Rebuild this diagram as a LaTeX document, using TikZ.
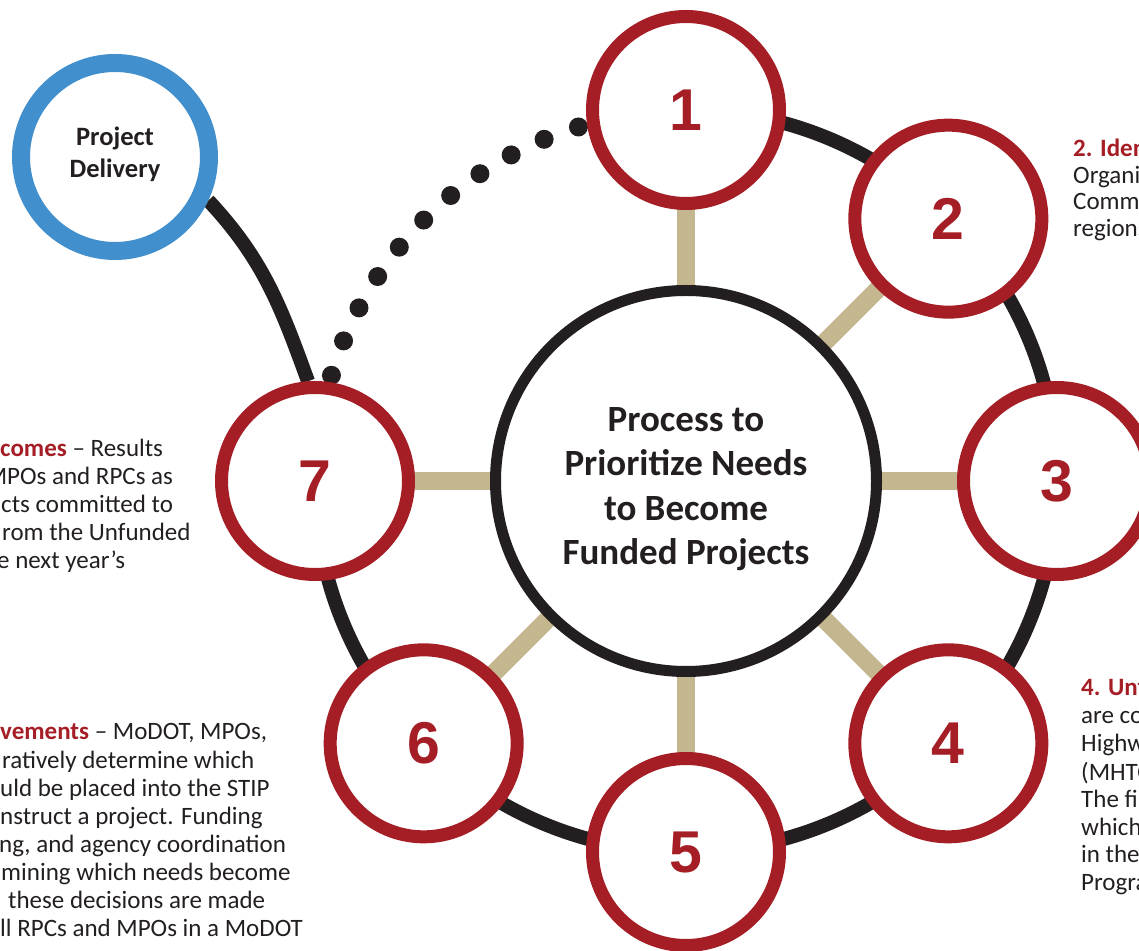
\documentclass[tikz,border=0pt]{standalone}
\usepackage{fontspec}
\setmainfont{Carlito}
\newfontfamily\numfont{Liberation Sans}
\usetikzlibrary{backgrounds,calc}
\definecolor{cred}{HTML}{A51E25}
\definecolor{cblack}{HTML}{231F20}
\definecolor{ctan}{HTML}{C4B78F}
\definecolor{cblue}{HTML}{418FCC}
\definecolor{ctxt}{HTML}{231F20}
\tikzset{
  stepnode/.style={circle, draw=cred, line width=13pt, fill=white, minimum size=187pt, inner sep=0pt,
    font=\numfont\bfseries\fontsize{59}{59}\selectfont, text=cred},
  hubnode/.style={circle, draw=cblack, line width=11pt, fill=white, minimum size=381pt, inner sep=0pt},
  delnode/.style={circle, draw=cblue, line width=18pt, fill=white, minimum size=188pt, inner sep=0pt},
  deltext/.style={inner sep=0pt, font=\bfseries\fontsize{26.5}{32}\selectfont, text=ctxt, align=center},
  ringline/.style={draw=cblack, line width=14pt},
  spoke/.style={draw=ctan, line width=18pt},
  dotmark/.style={fill=cblack},
  body/.style={inner sep=0pt, anchor=base west, text=ctxt, font=\fontsize{25}{28}\selectfont},
  titletext/.style={inner sep=0pt, align=center, text=ctxt, font=\bfseries\fontsize{37}{44.3}\selectfont}
}
\begin{document}
\begin{tikzpicture}[x=1pt,y=1pt]
\useasboundingbox (0,0) rectangle (1139,950);
\clip (0,0) rectangle (1139,950);
\coordinate (c) at (686,469);
% hub and step nodes
\node[hubnode] (hub) at (c) {};
\node[stepnode] (n1) at ($(c)+(90:371)$) {1};
\node[stepnode] (n2) at ($(c)+(45:371)$) {2};
\node[stepnode] (n3) at ($(c)+(0:371)$) {3};
\node[stepnode] (n4) at ($(c)+(-45:371)$) {4};
\node[stepnode] (n5) at ($(c)+(-90:371)$) {5};
\node[stepnode] (n6) at ($(c)+(-135:371)$) {6};
\node[stepnode] (n7) at ($(c)+(180:371)$) {7};
\node[delnode] (pd) at (115,793) {};
\node[deltext, yshift=3pt] (pdlabel) at (pd.center) {Project\\Delivery};
\node[titletext] (title) at (686,461) {Process to\\Prioritize Needs\\to Become\\Funded Projects};
\begin{pgfonlayer}{background}
  \draw[ringline] (n1.center) arc (90:-180:371);
  \foreach \i in {0,...,10} {
    \fill[dotmark] ($(c)+({106.9+\i*5.65}:370)$) circle (9.5);
  }
  \foreach \n in {n1,n2,n3,n4,n5,n6,n7} {
    \draw[spoke] (hub.center) -- (\n.center);
  }
  \draw[ringline] (pd.-25) to[out=-47,in=110] (n7.94);
\end{pgfonlayer}
% left text, step 7
\node[body] (t7a) at (0,493) {{\bfseries\color{cred}comes} – Results};
\node[body] (t7b) at (7,465) {\llap{M}POs and RPCs as};
\node[body] (t7c) at (1,437) {cts committed to};
\node[body] (t7d) at (2,409) {rom the Unfunded};
\node[body] (t7e) at (-3,381) {e next year’s};
% left text, step 6
\node[body] (t6a) at (0,210) {{\bfseries\color{cred}vements} – MoDOT, MPOs,};
\node[body] (t6b) at (2,182) {ratively determine which};
\node[body] (t6c) at (0,154) {uld be placed into the STIP};
\node[body] (t6d) at (0,126) {nstruct a project. Funding};
\node[body] (t6e) at (-1,98) {ng, and agency coordination};
\node[body] (t6f) at (1,70) {mining which needs become};
\node[body] (t6g) at (8,42) {these decisions are made};
\node[body] (t6h) at (0,14) {\llap{a}ll RPCs and MPOs in a MoDOT};
% right text, step 2
\node[body] (t2a) at (1073,793) {{\bfseries\color{cred}2. Iden}};
\node[body] (t2b) at (1073,766) {Organi};
\node[body] (t2c) at (1073,740) {Comm};
\node[body] (t2d) at (1073,713) {regions};
% right text, step 4
\node[body] (t4a) at (1081,254) {{\bfseries\color{cred}4. Unf}};
\node[body] (t4b) at (1081,226) {are co};
\node[body] (t4c) at (1081,198) {Highw};
\node[body] (t4d) at (1081,170) {(MHTC};
\node[body] (t4e) at (1081,143) {The fi};
\node[body] (t4f) at (1081,115) {which};
\node[body] (t4g) at (1081,88) {in the};
\node[body] (t4h) at (1081,60) {Progra};
\end{tikzpicture}
\end{document}
